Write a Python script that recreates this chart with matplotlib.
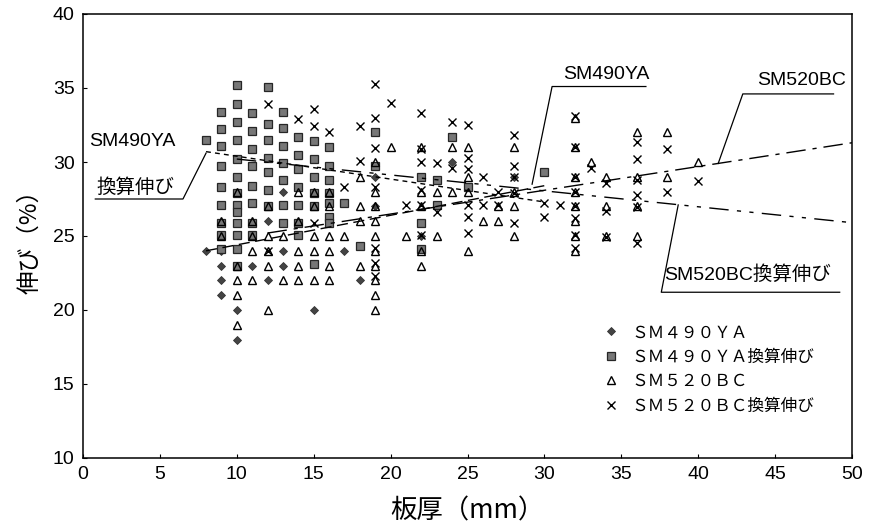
import matplotlib
matplotlib.use("Agg")
import matplotlib.pyplot as plt
from matplotlib import font_manager
import numpy as np

# fonts: narrow latin for numbers/labels, CJK for the japanese text
installed = {f.name for f in font_manager.fontManager.ttflist}
narrow = "Liberation Sans Narrow" if "Liberation Sans Narrow" in installed else "Liberation Sans"
jp = "Noto Sans CJK JP"
plt.rcParams["font.family"] = [narrow, jp, "DejaVu Sans"]

# elongation (%) by plate thickness (mm)
sm490ya = {
    8: [24], 9: [24, 23, 22, 21], 10: [27, 20, 18], 11: [23], 12: [26, 22],
    13: [28, 24, 23], 15: [20], 17: [24], 18: [22], 19: [29, 27],
    22: [25], 23: [27], 24: [30], 28: [29],
}
sm490ya_conv = {
    8: [31.5],
    9: [33.4, 32.2, 31.1, 29.7, 28.3, 27.1, 25.9, 25.1, 24.1],
    10: [35.2, 33.9, 32.7, 31.5, 30.2, 29.0, 27.9, 27.1, 26.6, 25.9, 25.1, 24.1, 23.0],
    11: [33.3, 32.1, 30.9, 29.7, 28.4, 27.2, 25.9, 25.1],
    12: [35.1, 32.6, 31.5, 30.3, 29.3, 28.1, 27.0],
    13: [33.4, 32.3, 31.1, 29.9, 28.8, 27.1, 25.9],
    14: [31.7, 30.5, 29.5, 28.3, 27.1, 25.9, 25.1],
    15: [31.4, 30.2, 29.0, 27.9, 27.0, 23.1],
    16: [31.0, 29.7, 28.8, 27.9, 27.2, 26.3, 25.9],
    17: [27.2], 18: [24.3], 19: [32.0, 29.7],
    22: [29.0, 25.9, 24.1], 23: [28.8, 27.1], 24: [31.7], 25: [28.3], 30: [29.3],
}
sm520bc = {
    9: [26, 25], 10: [28, 23, 22, 21, 19], 11: [26, 25, 24, 22],
    12: [27, 25, 24, 23, 20], 13: [25, 22], 14: [28, 26, 24, 23, 22],
    15: [28, 27, 25, 24, 22], 16: [28, 27, 25, 24, 23, 22], 17: [25],
    18: [29, 27, 26, 23], 19: [30, 28, 27, 26, 25, 24, 23, 22, 21, 20],
    20: [31], 21: [25], 22: [31, 28, 27, 24, 23], 23: [28, 25], 24: [31, 28],
    25: [31, 29, 28, 24], 26: [26], 27: [27, 26], 28: [31, 28, 27, 25],
    32: [33, 31, 29, 28, 27, 26, 25, 24], 33: [30], 34: [29, 27, 25],
    36: [32, 29, 27, 25], 38: [32, 29], 40: [30],
}
sm520bc_conv = {
    12: [33.9, 24.0], 14: [32.9], 15: [33.6, 32.4, 25.9], 16: [32.0], 17: [28.3],
    18: [32.4, 30.1], 19: [35.3, 33.0, 30.95, 28.3, 24.2, 23.2, 22.3], 20: [34.0],
    21: [27.1], 22: [33.3, 30.9, 30.0, 28.1, 27.1, 25.1], 23: [29.9, 26.6],
    24: [32.7, 29.6], 25: [32.5, 30.3, 29.5, 27.1, 26.3, 25.2], 26: [29.0, 27.1],
    27: [28.0, 27.1], 28: [31.8, 29.7, 29.0, 27.9, 25.9], 30: [27.2, 26.3],
    31: [27.1], 32: [33.1, 31.0, 29.0, 28.0, 27.0, 26.2, 25.1, 24.2], 33: [29.6],
    34: [28.6, 26.7, 24.9], 36: [31.35, 30.2, 28.8, 27.8, 26.95, 24.5],
    38: [30.9, 28.0], 40: [28.7],
}

# trend lines (thickness range, elongation at each end)
ya_line = ([8, 30], [24.0, 28.4])
ya_conv_line = ([8, 30], [30.7, 27.3])
bc_line = ([12, 50], [25.2, 31.3])
bc_conv_line = ([10, 50], [30.2, 25.9])

labels = ["ＳＭ４９０ＹＡ", "ＳＭ４９０ＹＡ換算伸び", "ＳＭ５２０ＢＣ", "ＳＭ５２０ＢＣ換算伸び"]


def flat(d):
    xs = [t for t, vals in d.items() for _ in vals]
    ys = [v for vals in d.values() for v in vals]
    return xs, ys


fig = plt.figure(figsize=(8.72, 5.26), dpi=100)
ax = fig.add_axes([83 / 872, 1 - 458 / 526, 769 / 872, 444 / 526])

x, y = flat(sm490ya)
ax.plot(x, y, ls="none", marker="D", ms=4.2, mfc="#444444", mec="#333333", mew=0.6,
        label=labels[0], zorder=3)
x, y = flat(sm490ya_conv)
ax.plot(x, y, ls="none", marker="s", ms=5.2, mfc="#777777", mec="#262626", mew=0.9,
        label=labels[1], zorder=3)
x, y = flat(sm520bc)
ax.plot(x, y, ls="none", marker="^", ms=6, mfc="none", mec="black", mew=1.0,
        label=labels[2], zorder=4)
x, y = flat(sm520bc_conv)
ax.plot(x, y, ls="none", marker="x", ms=5.5, mec="black", mew=1.0,
        label=labels[3], zorder=4)

ax.plot(*ya_line, color="black", lw=1.0, dashes=(8, 4), zorder=5)
ax.plot(*ya_conv_line, color="black", lw=1.0, dashes=(3.5, 3), zorder=5)
ax.plot(*bc_line, color="black", lw=1.0, dashes=(14, 5, 3, 5), zorder=5)
ax.plot(*bc_conv_line, color="black", lw=1.0, dashes=(14, 6, 3, 6, 3, 6), zorder=5)

ax.set_xlim(0, 50)
ax.set_ylim(10, 40)
ax.set_xticks(np.arange(0, 51, 5))
ax.set_yticks(np.arange(10, 41, 5))
ax.tick_params(direction="in", length=3, width=0.8, labelsize=14, pad=6)
for s in ax.spines.values():
    s.set_linewidth(1.1)

ax.set_xlabel("板厚（mm）", family=[jp], fontsize=19, labelpad=10)
ax.set_ylabel("伸び（%）", family=[jp], fontsize=17, labelpad=8)

# callout labels with underline and leader
ann = dict(fontsize=14, family=[narrow, jp], color="black")
lead = dict(color="black", lw=0.9)
ax.text(0.4, 31.4, "SM490YA", ha="left", va="center", **ann)
ax.text(0.9, 28.3, "換算伸び", ha="left", va="center", **ann)
ax.plot([0.8, 6.5, 8.0], [27.5, 27.5, 30.6], **lead)
ax.text(31.2, 35.9, "SM490YA", ha="left", va="center", **ann)
ax.plot([36.6, 30.5, 29.2], [35.1, 35.1, 28.5], **lead)
ax.text(43.8, 35.5, "SM520BC", ha="left", va="center", **ann)
ax.plot([48.8, 42.9, 41.3], [34.6, 34.6, 29.9], **lead)
ax.text(37.8, 22.4, "SM520BC換算伸び", ha="left", va="center", **ann)
ax.plot([49.2, 37.6, 38.7], [21.2, 21.2, 27.1], **lead)

ax.legend(loc="upper left", bbox_to_anchor=(0.665, 0.32), frameon=False,
          prop={"family": [jp], "size": 12}, handlelength=1.0, handletextpad=0.7,
          labelspacing=0.45, borderpad=0)

fig.savefig("out.png", dpi=100)
